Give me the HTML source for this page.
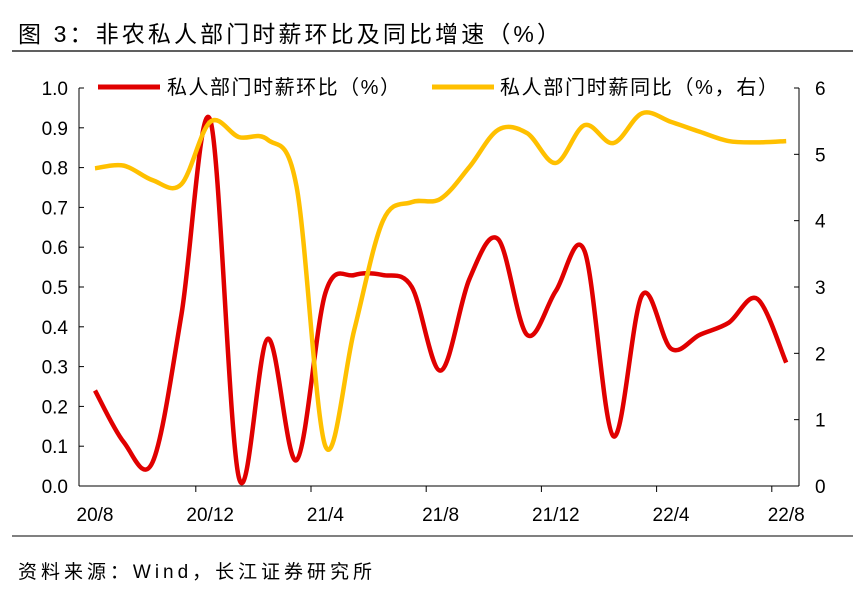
<!DOCTYPE html>
<html><head><meta charset="utf-8"><style>
body{margin:0;background:#fff;font-family:"Liberation Sans","Noto Sans CJK SC",sans-serif;}
svg text{font-family:"Liberation Sans","Noto Sans CJK SC",sans-serif;}
</style></head><body>
<svg width="865" height="603" xmlns="http://www.w3.org/2000/svg" id="chart">
<text x="18" y="42" font-size="23" fill="#000" textLength="542" lengthAdjust="spacing">图 3：非农私人部门时薪环比及同比增速（%）</text>
<line x1="12" y1="51" x2="853" y2="51" stroke="#000" stroke-width="1.2"/>
<line x1="12" y1="536" x2="853" y2="536" stroke="#000" stroke-width="1"/>
<text x="18" y="578" font-size="19" fill="#000" textLength="354" lengthAdjust="spacing">资料来源：Wind，长江证券研究所</text>
<g id="axes"></g>
<g id="series"></g>
<g>
<line x1="98" y1="87" x2="160" y2="87" stroke="#e00000" stroke-width="5"/>
<text x="167" y="94" font-size="20" textLength="233" lengthAdjust="spacing">私人部门时薪环比（%）</text>
<line x1="432" y1="87" x2="494" y2="87" stroke="#ffc000" stroke-width="5"/>
<text x="500" y="94" font-size="20" textLength="278" lengthAdjust="spacing">私人部门时薪同比（%，右）</text>
</g>
</svg>
<script>
const categories=["20/8","20/9","20/10","20/11","20/12","21/1","21/2","21/3","21/4","21/5","21/6","21/7","21/8","21/9","21/10","21/11","21/12","22/1","22/2","22/3","22/4","22/5","22/6","22/7","22/8"];
const momValues=[0.24,0.11,0.06,0.43,0.92,0.02,0.37,0.065,0.485,0.53,0.53,0.50,0.29,0.52,0.62,0.38,0.49,0.59,0.125,0.48,0.345,0.38,0.41,0.47,0.31];
const yoyValues=[4.79,4.83,4.61,4.55,5.49,5.26,5.22,4.51,0.6,2.35,4.0,4.28,4.33,4.81,5.37,5.32,4.87,5.44,5.17,5.62,5.49,5.34,5.2,5.18,5.2];
const leftTicks=[0,0.1,0.2,0.3,0.4,0.5,0.6,0.7,0.8,0.9,1.0];
const rightTicks=[0,1,2,3,4,5,6];
const xLabelIdx=[0,4,8,12,16,20,24];

const NS="http://www.w3.org/2000/svg";
const L=79,R=799,T=88,B=486,X0=95,DX=28.8;
const xs=i=>X0+DX*i;
const yL=v=>B-(v/1.0)*(B-T);
const yR=v=>B-(v/6)*(B-T);
function mk(tag,attrs,parent){const e=document.createElementNS(NS,tag);for(const k in attrs)e.setAttribute(k,attrs[k]);parent.appendChild(e);return e;}
const axes=document.getElementById('axes'),ser=document.getElementById('series');
let e;
e=mk('line',{x1:L,y1:T,x2:L,y2:B,stroke:'#000','stroke-width':1},axes);


e=mk('line',{x1:R,y1:T,x2:R,y2:B,stroke:'#000','stroke-width':1},axes);


e=mk('line',{x1:L,y1:B,x2:R,y2:B,stroke:'#000','stroke-width':1},axes);


leftTicks.forEach(v=>{const y=yL(v);
 e=mk('line',{x1:L,y1:y,x2:L+5,y2:y,stroke:'#000'},axes);
 
 
 e=mk('text',{x:68,y:y+7,'font-size':19,'text-anchor':'end'},axes);e.textContent=v.toFixed(1);
 
 });
rightTicks.forEach(v=>{const y=yR(v);
 e=mk('line',{x1:R-5,y1:y,x2:R,y2:y,stroke:'#000'},axes);
 
 
 e=mk('text',{x:815,y:y+7,'font-size':19},axes);e.textContent=v;
 
 });
xLabelIdx.forEach((i,k)=>{
 if(k>0){const tx=xs(i)-DX/2;e=mk('line',{x1:tx,y1:B,x2:tx,y2:B+6,stroke:'#000'},axes);
 
 }
 e=mk('text',{x:xs(i),y:B+35,'font-size':19,'text-anchor':'middle'},axes);e.textContent=categories[i];
 
 });
function smooth(pts){let d=`M${pts[0][0]},${pts[0][1]}`;
 for(let i=0;i<pts.length-1;i++){const p0=pts[Math.max(0,i-1)],p1=pts[i],p2=pts[i+1],p3=pts[Math.min(pts.length-1,i+2)];
  const c1=[p1[0]+(p2[0]-p0[0])/6,p1[1]+(p2[1]-p0[1])/6],c2=[p2[0]-(p3[0]-p1[0])/6,p2[1]-(p3[1]-p1[1])/6];
  d+=` C${c1[0]},${c1[1]} ${c2[0]},${c2[1]} ${p2[0]},${p2[1]}`;}return d;}
e=mk('path',{d:smooth(momValues.map((v,i)=>[xs(i),yL(v)])),fill:'none',stroke:'#e00000','stroke-width':4.5,'stroke-linejoin':'round'},ser);


e=mk('path',{d:smooth(yoyValues.map((v,i)=>[xs(i),yR(v)])),fill:'none',stroke:'#ffc000','stroke-width':4.5,'stroke-linejoin':'round'},ser);


</script>
</body></html>
